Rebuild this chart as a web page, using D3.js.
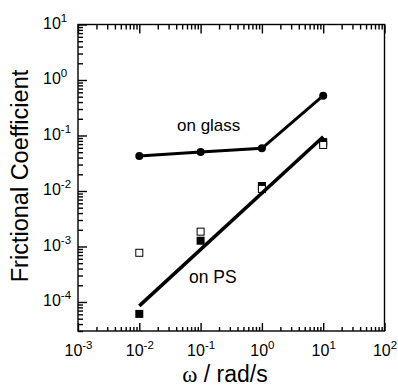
<!DOCTYPE html>
<html>
<head>
<meta charset="utf-8">
<script src="https://cdn.jsdelivr.net/npm/d3@7"></script>
<style>
  html, body { margin: 0; padding: 0; background: #fff; }
  svg { display: block; font-family: "Liberation Sans", Arial, Helvetica, sans-serif; }
</style>
</head>
<body>
<svg id="chart" width="398" height="386"></svg>
<script>
// ---- data ----
const omega = [0.01, 0.1, 1, 10];
const glass = [0.0427, 0.0505, 0.0588, 0.521];
const psFilled = [6.1e-5, 1.27e-3, 0.0123, 0.076];
const psOpen = [7.7e-4, 1.85e-3, 0.0109, 0.0675];
const psFitX = [0.01, 10];
const psFitY = [8.5e-5, 0.095];
const xMajor = [1e-3, 1e-2, 1e-1, 1e0, 1e1, 1e2];
const xExp = ["-3", "-2", "-1", "0", "1", "2"];
const yMajor = [1e-4, 1e-3, 1e-2, 1e-1, 1e0, 1e1];
const yExp = ["-4", "-3", "-2", "-1", "0", "1"];
const xDomain = [1e-3, 1e2];
const yDomain = [3e-5, 10];

const svg = d3.select("#chart");
const L = 78, R = 384.5, T = 24.5, B = 331;
const x = d3.scaleLog().domain(xDomain).range([L, R]);
const y = d3.scaleLog().domain(yDomain).range([B, T]);

function minors(scale) {
  return scale.ticks().filter(v => {
    const e = Math.log10(v);
    return Math.abs(e - Math.round(e)) > 1e-6;
  });
}

const axStroke = 1.4;
function styleAxis(g) {
  g.select(".domain").remove();
  g.selectAll(".tick line").attr("stroke", "#000").attr("stroke-width", axStroke);
}

// bottom axis
svg.append("g").attr("transform", `translate(0,${B})`)
  .call(d3.axisBottom(x).tickValues(minors(x)).tickSize(-4).tickFormat(""))
  .call(styleAxis);
const gb = svg.append("g").attr("transform", `translate(0,${B})`)
  .call(d3.axisBottom(x).tickValues(xMajor).tickSize(-8).tickPadding(16).tickFormat(""))
  .call(styleAxis);
gb.selectAll(".tick text").remove();
gb.selectAll(".tick").each(function(d, i) {
  const t = d3.select(this).append("text")
    .attr("y", 25).attr("text-anchor", "middle")
    .attr("fill", "#000").style("font-size", "16px")
    .style("font-family", "'Liberation Sans', Arial, sans-serif");
  t.append("tspan").text("10");
  t.append("tspan").attr("dy", -7).style("font-size", "11.5px").text(xExp[i]);
});

// top axis
svg.append("g").attr("transform", `translate(0,${T})`)
  .call(d3.axisTop(x).tickValues(minors(x)).tickSize(-5).tickFormat(""))
  .call(styleAxis);
svg.append("g").attr("transform", `translate(0,${T})`)
  .call(d3.axisTop(x).tickValues(xMajor).tickSize(-9).tickFormat(""))
  .call(styleAxis);

// left axis
svg.append("g").attr("transform", `translate(${L},0)`)
  .call(d3.axisLeft(y).tickValues(minors(y)).tickSize(-5).tickFormat(""))
  .call(styleAxis);
const gl = svg.append("g").attr("transform", `translate(${L},0)`)
  .call(d3.axisLeft(y).tickValues(yMajor).tickSize(-9).tickFormat(""))
  .call(styleAxis);
gl.selectAll(".tick text").remove();
gl.selectAll(".tick").each(function(d, i) {
  const t = d3.select(this).append("text")
    .attr("x", -35).attr("y", 4).attr("text-anchor", "start")
    .attr("fill", "#000").style("font-size", "16px")
    .style("font-family", "'Liberation Sans', Arial, sans-serif");
  t.append("tspan").text("10");
  t.append("tspan").attr("dy", -7).style("font-size", "11.5px").text(yExp[i]);
});

// frame
svg.append("rect").attr("x", L).attr("y", T).attr("width", R - L).attr("height", B - T)
  .attr("fill", "none").attr("stroke", "#000").attr("stroke-width", axStroke);

// glass line + markers
const line = d3.line().x(d => x(d[0])).y(d => y(d[1]));
svg.append("path").datum(omega.map((w, i) => [w, glass[i]]))
  .attr("d", line).attr("fill", "none").attr("stroke", "#000").attr("stroke-width", 3);
svg.selectAll(".gdot").data(omega.map((w, i) => [w, glass[i]])).enter()
  .append("circle").attr("cx", d => x(d[0])).attr("cy", d => y(d[1])).attr("r", 4).attr("fill", "#000");

// PS markers (filled then open)
const sq = 8;
svg.selectAll(".pf").data(omega.map((w, i) => [w, psFilled[i]])).enter()
  .append("rect").attr("x", d => x(d[0]) - sq / 2).attr("y", d => y(d[1]) - sq / 2)
  .attr("width", sq).attr("height", sq).attr("fill", "#000");
svg.selectAll(".po").data(omega.map((w, i) => [w, psOpen[i]])).enter()
  .append("rect").attr("x", d => x(d[0]) - sq / 2 + 0.5).attr("y", d => y(d[1]) - sq / 2 + 0.5)
  .attr("width", sq - 1).attr("height", sq - 1).attr("fill", "#fff").attr("stroke", "#000").attr("stroke-width", 1);

// PS fit line
svg.append("path").datum(psFitX.map((w, i) => [w, psFitY[i]]))
  .attr("d", line).attr("fill", "none").attr("stroke", "#000").attr("stroke-width", 3.5);

// annotations
svg.append("text").attr("x", 177).attr("y", 130.5).style("font-size", "17px").text("on glass");
svg.append("text").attr("x", 189).attr("y", 283).style("font-size", "17.5px").text("on PS");

// axis titles
const xt = svg.append("text").attr("x", 225).attr("y", 382).attr("text-anchor", "middle").style("font-size", "23px");
xt.append("tspan").style("font-family", "'Liberation Serif', 'Times New Roman', serif").text("ω");
xt.append("tspan").text(" / rad/s");
svg.append("text").attr("transform", "translate(28,176) rotate(-90)")
  .attr("text-anchor", "middle").style("font-size", "23.5px").text("Frictional Coefficient");
</script>
</body>
</html>
